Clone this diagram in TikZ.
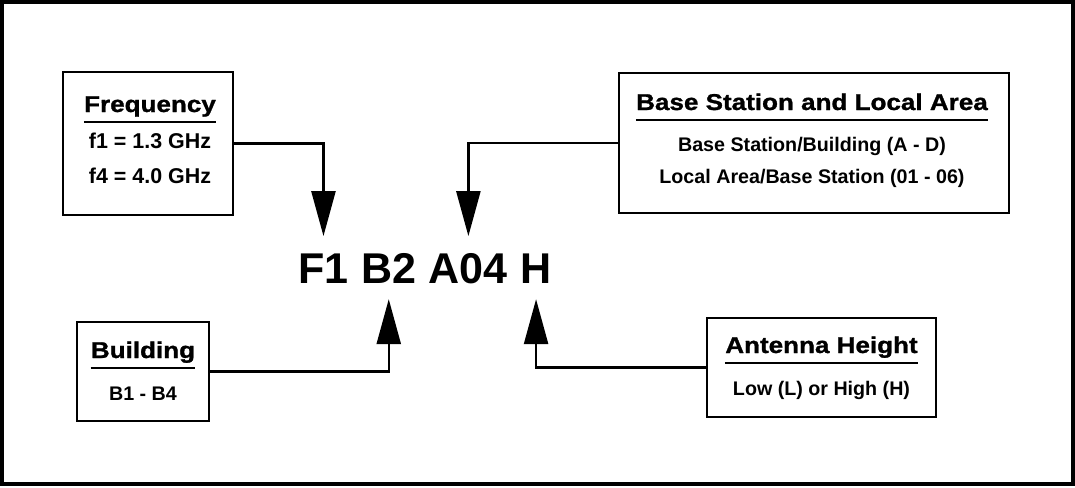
\documentclass[tikz,border=0pt]{standalone}
\usepackage{fontspec}
\setmainfont{Liberation Sans}
\newfontfamily\headfont{Liberation Sans}[FakeStretch=1.14,FakeBold=1.2]
\usetikzlibrary{positioning,arrows.meta}
\begin{document}
\begin{tikzpicture}[
 x=0.02cm,y=-0.02cm,
 box/.style={draw,line width=1.6pt,inner sep=0pt},
 head/.style={font=\headfont\bfseries\fontsize{13}{15}\selectfont,inner sep=0pt,text depth=5.6pt,anchor=base},
 body/.style={font=\bfseries\fontsize{11.2}{13}\selectfont,inner sep=0pt,anchor=base},
 code/.style={font=\bfseries\fontsize{24.5}{28}\selectfont,text height=17.5pt,text depth=0pt,inner xsep=0pt,inner ysep=9pt},
 uline/.style={line width=1.3pt},
 conn/.style={line width=1.4pt,-{Triangle[length=0.9cm,width=0.48cm]}}
]
 \useasboundingbox (0,0) rectangle (1075,487);
 \draw[line width=1.8pt] (2,2) rectangle (1073,484);

 \node[box,minimum width=3.4cm,minimum height=2.86cm] (freq) at (148,143.5) {};
 \node[head] (freqT) at (150,112) {Frequency};
 \draw[uline] (freqT.south west)--(freqT.south east);
 \node[body,font=\bfseries\fontsize{12.2}{14}\selectfont] (f1) at (150,148) {f1 = 1.3 GHz};
 \node[body,font=\bfseries\fontsize{12.2}{14}\selectfont] (f4) at (150,183) {f4 = 4.0 GHz};

 \node[box,minimum width=7.8cm,minimum height=2.8cm] (base) at (814,143) {};
 \node[head] (baseT) at (812,110) {Base Station and Local Area};
 \draw[uline] (baseT.south west)--(baseT.south east);
 \node[body] (bsb) at (812,151) {Base Station/Building (A - D)};
 \node[body] (lab) at (812,183) {Local Area/Base Station (01 - 06)};

 \node[box,minimum width=2.64cm,minimum height=1.98cm] (build) at (143,371.5) {};
 \node[head] (buildT) at (143,358) {Building};
 \draw[uline] (buildT.south west)--(buildT.south east);
 \node[body] (bn) at (143,400) {B1 - B4};

 \node[box,minimum width=4.58cm,minimum height=1.98cm] (ant) at (821.5,367.5) {};
 \node[head] (antT) at (821.5,353) {Antenna Height};
 \draw[uline] (antT.south west)--(antT.south east);
 \node[body] (lh) at (821.5,395) {Low (L) or High (H)};

 \node[code,anchor=base west] (F1) at (298,283) {F1};
 \node[code,right=6.8pt of F1] (B2) {B2};
 \node[code,right=6.8pt of B2] (A04) {A04};
 \node[code,right=6.8pt of A04] (H) {H};

 \draw[conn] (freq.east) -| (F1.north);
 \draw[conn] (base.west) -| (A04.north);
 \draw[conn] (build.east) -| (B2.south);
 \draw[conn] (ant.west) -| (H.south);
\end{tikzpicture}
\end{document}
